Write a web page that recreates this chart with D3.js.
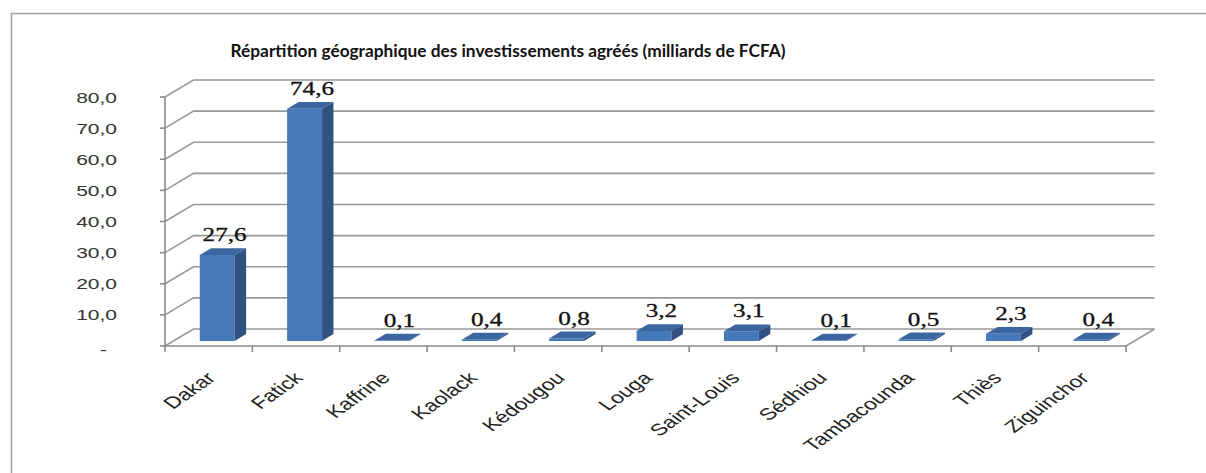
<!DOCTYPE html>
<html>
<head>
<meta charset="utf-8">
<script src="https://cdn.jsdelivr.net/npm/d3@7"></script>
<style>
  body { margin: 0; background: #fff; }
  svg { display: block; }
</style>
</head>
<body>
<div id="chart"></div>
<script>
// Data
const regions = ['Dakar', 'Fatick', 'Kaffrine', 'Kaolack', 'Kédougou', 'Louga',
    'Saint-Louis', 'Sédhiou', 'Tambacounda', 'Thiès', 'Ziguinchor']
const amounts = [27.6, 74.6, 0.1, 0.4, 0.8, 3.2, 3.1, 0.1, 0.5, 2.3, 0.4]
const yTicks = [0, 10, 20, 30, 40, 50, 60, 70, 80]
const title = 'Répartition géographique des investissements agréés (milliards de FCFA)'

const width = 1206
const height = 473

// 3d depth offset of the back wall
const DX = 28.5
const DY = 17
// horizontal stretch of the picture text
const SX = 1.4

const svg = d3.select('#chart')
    .append('svg')
    .attr('width', width)
    .attr('height', height)

// outer frame
svg.append('rect')
    .attr('x', 11.5)
    .attr('y', 13.5)
    .attr('width', 1400)
    .attr('height', 800)
    .attr('fill', 'none')
    .attr('stroke', '#a0a0a0')
    .attr('stroke-width', 1.5)

const x = d3.scaleBand()
    .domain(regions)
    .range([165, 1126])

const y = d3.scaleLinear()
    .domain([0, 80])
    .range([346, 97])

// project a front-plane point back by depth fraction d
const P = (px, py, d) => [px + d * DX, py - d * DY]

const fmt = v => v.toFixed(1).replace('.', ',')

const x0 = x.range()[0]
const x1 = x.range()[1]

// walls and gridlines
const grid = svg.append('g')
    .attr('fill', 'none')
    .attr('stroke', '#999')
    .attr('stroke-width', 1.6)

grid.selectAll('path.grid')
    .data(yTicks)
    .join('path')
    .attr('class', 'grid')
    .attr('d', t => d3.line()([P(x0, y(t), 0), P(x0, y(t), 1), P(x1, y(t), 1)]))

// floor right edge
grid.append('path')
    .attr('d', d3.line()([P(x1, y(0), 0), P(x1, y(0), 1)]))

// front vertical axis with ticks
const axis = svg.append('g')
    .attr('stroke', '#8a8a8a')
    .attr('stroke-width', 1.6)
    .attr('fill', 'none')

axis.append('line')
    .attr('x1', x0).attr('x2', x0)
    .attr('y1', y(80)).attr('y2', y(0))

axis.selectAll('line.ytick')
    .data(yTicks)
    .join('line')
    .attr('class', 'ytick')
    .attr('x1', x0 - 5).attr('x2', x0)
    .attr('y1', t => y(t)).attr('y2', t => y(t))

// floor front line and category ticks
axis.append('line')
    .attr('x1', x0).attr('x2', x1)
    .attr('y1', y(0)).attr('y2', y(0))

axis.selectAll('line.xtick')
    .data(regions.map(r => x(r)).concat([x1]))
    .join('line')
    .attr('class', 'xtick')
    .attr('x1', d => d).attr('x2', d => d)
    .attr('y1', y(0)).attr('y2', y(0) + 6)

// y tick labels
svg.append('g')
    .selectAll('text')
    .data(yTicks)
    .join('text')
    .attr('transform', t => t === 0
        ? `translate(107,${y(t) + 8.5}) scale(${SX},1)`
        : `translate(117,${y(t) + 5.5}) scale(${SX},1)`)
    .attr('text-anchor', 'end')
    .attr('font-family', 'Liberation Sans, Arial, sans-serif')
    .attr('font-size', 15)
    .attr('fill', '#333')
    .text(t => t === 0 ? '-' : fmt(t))

// bars as 3d boxes
const f0 = 0.3
const f1 = 0.7
const barW = x.bandwidth() * 0.4

const bars = svg.append('g')
    .selectAll('g')
    .data(regions.map((r, i) => ({ region: r, value: amounts[i] })))
    .join('g')

const left = d => x(d.region) + x.bandwidth() / 2 - barW / 2
const right = d => left(d) + barW

// front face
bars.append('path')
    .attr('fill', '#4679ba')
    .attr('d', d => d3.line()([
        P(left(d), y(0), f0), P(right(d), y(0), f0),
        P(right(d), y(d.value), f0), P(left(d), y(d.value), f0)
    ]) + 'Z')

// side face
bars.append('path')
    .attr('fill', '#2f5280')
    .attr('d', d => d3.line()([
        P(right(d), y(0), f0), P(right(d), y(0), f1),
        P(right(d), y(d.value), f1), P(right(d), y(d.value), f0)
    ]) + 'Z')

// top face
bars.append('path')
    .attr('fill', '#3c66a0')
    .attr('d', d => d3.line()([
        P(left(d), y(d.value), f0), P(right(d), y(d.value), f0),
        P(right(d), y(d.value), f1), P(left(d), y(d.value), f1)
    ]) + 'Z')

// value labels
bars.append('text')
    .attr('transform', d => {
        const p = P(x(d.region) + x.bandwidth() / 2, y(d.value), f1)
        return `translate(${p[0] - 4},${p[1] - 7}) scale(${SX},1)`
    })
    .attr('text-anchor', 'middle')
    .attr('font-family', 'Liberation Serif, Times New Roman, serif')
    .attr('font-size', 18)
    .attr('stroke', '#111')
    .attr('stroke-width', 0.3)
    .attr('fill', '#111')
    .text(d => fmt(d.value))

// category labels
svg.append('g')
    .selectAll('text')
    .data(regions)
    .join('text')
    .attr('transform', r => `translate(${x(r) + x.bandwidth() / 2 + 8},379) scale(${SX},1) rotate(-45)`)
    .attr('text-anchor', 'end')
    .attr('font-family', 'Liberation Sans, Arial, sans-serif')
    .attr('font-size', 16.5)
    .attr('fill', '#222')
    .text(r => r)

// title
svg.append('text')
    .attr('x', 508)
    .attr('y', 57)
    .attr('text-anchor', 'middle')
    .attr('font-family', 'Lato, sans-serif')
    .attr('font-weight', 'bold')
    .attr('font-size', 17.3)
    .attr('fill', '#111')
    .text(title)
</script>
</body>
</html>
